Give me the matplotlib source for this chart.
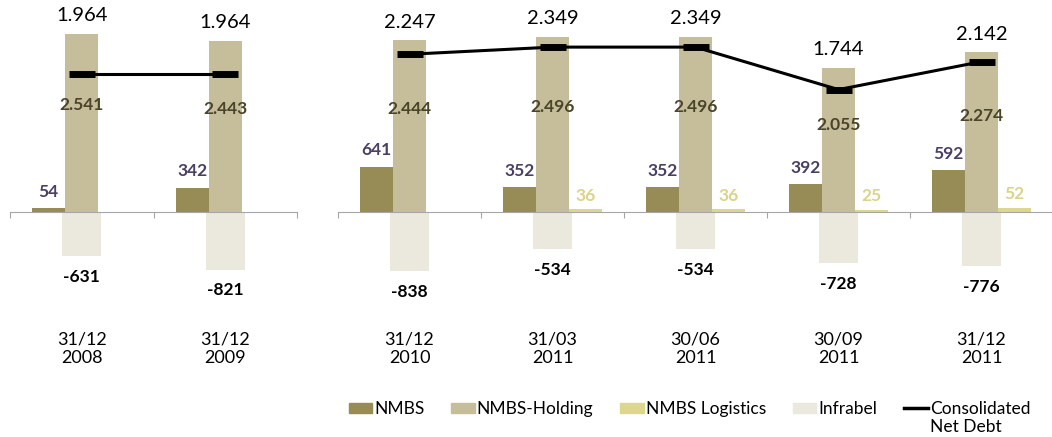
import numpy as np
import matplotlib
matplotlib.use('Agg')
from matplotlib import pyplot as plt
from matplotlib.patches import Patch
from matplotlib.lines import Line2D

plt.rcParams['font.family'] = ['Lato', 'DejaVu Sans']

# data (EUR million), first panel: 2008-2009, second panel: 2010-2011
labels_a = ['31/12\n2008', '31/12\n2009']
labels_b = ['31/12\n2010', '31/03\n2011', '30/06\n2011', '30/09\n2011', '31/12\n2011']

nmbs_a = [54, 342]
holding_a = [2541, 2443]
infrabel_a = [-631, -821]
debt_a = [1964, 1964]

nmbs_b = [641, 352, 352, 392, 592]
holding_b = [2444, 2496, 2496, 2055, 2274]
logistics_b = [np.nan, 36, 36, 25, 52]
infrabel_b = [-838, -534, -534, -728, -776]
debt_b = [2247, 2349, 2349, 1744, 2142]

c_nmbs = '#978c55'
c_hold = '#c6be9a'
c_log = '#ddd78e'
c_infra = '#ebe9dd'

W, H = 1052, 437
fig = plt.figure(figsize=(W / 100, H / 100), dpi=100)

ymin, ymax = -3205, 3020
lab_fs = 12.5


def panel(x0, x1, labels, nmbs, holding, infrabel, debt, logistics=None):
    ax = fig.add_axes([x0 / W, 0, (x1 - x0) / W, 1])
    n = len(labels)
    x = np.arange(n)
    w = 0.23
    ax.bar(x, infrabel, 0.27, color=c_infra, zorder=1)
    ax.bar(x - w, nmbs, w, color=c_nmbs, zorder=2)
    ax.bar(x, holding, w, color=c_hold, zorder=2)
    if logistics is not None:
        ax.bar(x + w, logistics, w, color=c_log, zorder=2)
    ax.plot(x, debt, color='black', lw=2.2, zorder=4,
            marker='_', markersize=19, markeredgewidth=5)

    for i in range(n):
        ax.annotate('%d' % nmbs[i], (x[i] - w, nmbs[i]), xytext=(0, 12),
                    textcoords='offset points', ha='center', va='center',
                    fontsize=lab_fs, fontweight='bold', color='#4b3f62')
        ax.text(x[i], holding[i] * 0.6, '{:.3f}'.format(holding[i] / 1000),
                ha='center', va='center', fontsize=lab_fs, fontweight='bold',
                color='#4a4429', zorder=5)
        ax.annotate('{:.3f}'.format(debt[i] / 1000), (x[i], holding[i]),
                    xytext=(0, 13), textcoords='offset points', ha='center',
                    va='center', fontsize=14.5, color='black')
        ax.annotate('%d' % infrabel[i], (x[i], infrabel[i]), xytext=(0, -15),
                    textcoords='offset points', ha='center', va='center',
                    fontsize=lab_fs, fontweight='bold', color='black')
        if logistics is not None and not np.isnan(logistics[i]):
            ax.annotate('%d' % logistics[i], (x[i] + w, logistics[i]),
                        xytext=(0, 10), textcoords='offset points',
                        ha='center', va='center', fontsize=lab_fs,
                        fontweight='bold', color='#dcd38a')
        ax.text(x[i], -1950, labels[i], ha='center', va='center',
                fontsize=13, color='black', linespacing=1.15)

    ax.set_xlim(-0.5, n - 0.5)
    ax.set_ylim(ymin, ymax)
    for s in ['top', 'right', 'left']:
        ax.spines[s].set_visible(False)
    ax.spines['bottom'].set_position(('data', 0))
    ax.spines['bottom'].set_color('#a6a6a6')
    ax.set_yticks([])
    ax.set_xticks(np.arange(n + 1) - 0.5)
    ax.set_xticklabels([])
    ax.tick_params(axis='x', direction='out', length=4, color='#a6a6a6')
    ax.patch.set_alpha(0)
    return ax


panel(10, 297, labels_a, nmbs_a, holding_a, infrabel_a, debt_a)
panel(338, 1053, labels_b, nmbs_b, holding_b, infrabel_b, debt_b, logistics_b)

handles = [Patch(color=c_nmbs), Patch(color=c_hold), Patch(color=c_log),
           Patch(color=c_infra), Line2D([], [], color='black', lw=2.5)]
names = ['NMBS', 'NMBS-Holding', 'NMBS Logistics', 'Infrabel', 'Consolidated']
leg = fig.legend(handles, names, ncol=5, loc='center left',
                 bbox_to_anchor=(333 / W, 1 - 409 / H), frameon=False,
                 handlelength=1.35, handleheight=0.5,
                 handletextpad=0.12, columnspacing=1.55,
                 prop={'size': 12.5})

fig.canvas.draw()
bb = leg.get_texts()[-1].get_window_extent()
fig.text(bb.x0 / W, (bb.y0 - 10) / H, 'Net Debt', ha='left', va='center',
         fontsize=12.5)

fig.savefig('out.png', dpi=100)
